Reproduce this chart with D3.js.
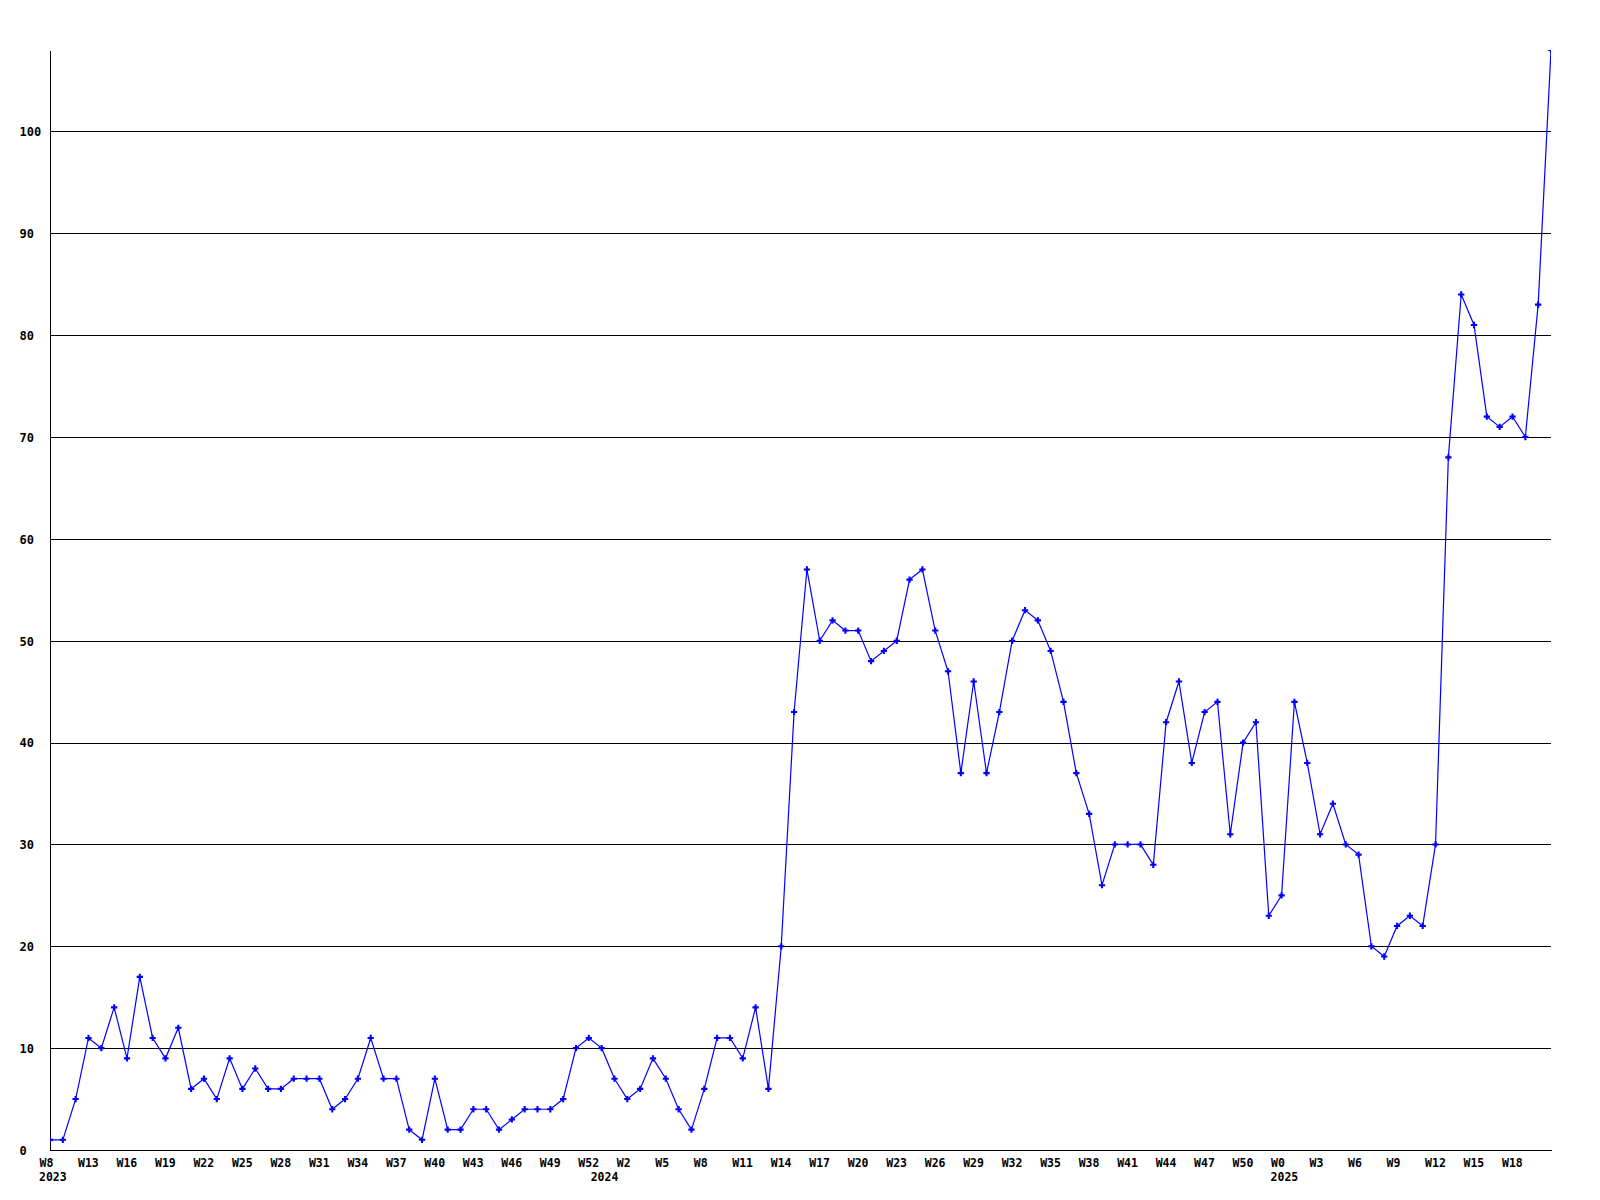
<!DOCTYPE html>
<html>
<head>
<meta charset="utf-8">
<script src="https://cdn.jsdelivr.net/npm/d3@7"></script>
<style>
  html, body { margin: 0; padding: 0; background: #fff; }
  svg { display: block; }
  text { font-family: "DejaVu Sans Mono", "Liberation Mono", monospace; font-weight: bold; fill: #000; }
</style>
</head>
<body>
<svg id="chart" width="1600" height="1200"></svg>
<script>
// ---- data ----
const values = [
  1, 1, 5, 11, 10, 14, 9, 17, 11, 9,
  12, 6, 7, 5, 9, 6, 8, 6, 6, 7,
  7, 7, 4, 5, 7, 11, 7, 7, 2, 1,
  7, 2, 2, 4, 4, 2, 3, 4, 4, 4,
  5, 10, 11, 10, 7, 5, 6, 9, 7, 4,
  2, 6, 11, 11, 9, 14, 6, 20, 43, 57,
  50, 52, 51, 51, 48, 49, 50, 56, 57, 51,
  47, 37, 46, 37, 43, 50, 53, 52, 49, 44,
  37, 33, 26, 30, 30, 30, 28, 42, 46, 38,
  43, 44, 31, 40, 42, 23, 25, 44, 38, 31,
  34, 30, 29, 20, 19, 22, 23, 22, 30, 68,
  84, 81, 72, 71, 72, 70, 83, 108
];
const weekTickIndex = [0, 3, 6, 9, 12, 15, 18, 21, 24, 27, 30, 33, 36, 39, 42, 45, 48, 51, 54, 57,
  60, 63, 66, 69, 72, 75, 78, 81, 84, 87, 90, 93, 96, 99, 102, 105, 108, 111, 114];
const weekTickLabels = ["W8", "W13", "W16", "W19", "W22", "W25", "W28", "W31", "W34", "W37",
  "W40", "W43", "W46", "W49", "W52", "W2", "W5", "W8", "W11", "W14",
  "W17", "W20", "W23", "W26", "W29", "W32", "W35", "W38", "W41", "W44",
  "W47", "W50", "W0", "W3", "W6", "W9", "W12", "W15", "W18"];
const yearTickIndex = [0, 43, 96];
const yearTickLabels = ["2023", "2024", "2025"];
const yTicks = [0, 10, 20, 30, 40, 50, 60, 70, 80, 90, 100];
const yMax = 108;

// ---- layout ----
const pLeft = 50, pRight = 1551, pTop = 50, pBottom = 1150;
const svg = d3.select("#chart");
svg.append("rect").attr("width", 1600).attr("height", 1200).attr("fill", "#fff");

const x = d3.scaleLinear().domain([0, values.length - 1]).range([pLeft, pRight]);
const y = d3.scaleLinear().domain([0, yMax]).range([pBottom, pTop]);

svg.append("defs").append("clipPath").attr("id", "plotclip")
  .append("rect").attr("x", pLeft).attr("y", pTop).attr("width", pRight - pLeft).attr("height", pBottom - pTop);

// Y axis with grid lines
const yAxis = d3.axisLeft(y).tickValues(yTicks).tickSize(-(pRight - pLeft)).tickSizeOuter(0).tickFormat(d3.format("d"));
const yg = svg.append("g").attr("transform", `translate(${pLeft},0)`).call(yAxis);
yg.attr("font-family", null).attr("font-size", null);
yg.select(".domain").attr("stroke", "#000").attr("stroke-width", 1).attr("shape-rendering", "crispEdges");
yg.selectAll(".tick line").attr("stroke", "#000").attr("stroke-width", 1).attr("shape-rendering", "crispEdges");
yg.selectAll(".tick text")
  .attr("x", 19.5 - pLeft).attr("dy", "0.36em")
  .attr("text-anchor", "start")
  .style("font-size", "12px");

// X axis
const xAxis = d3.axisBottom(x).tickValues(weekTickIndex).tickSize(0).tickSizeOuter(0)
  .tickFormat((d, i) => weekTickLabels[i]);
const xg = svg.append("g").attr("transform", `translate(0,${pBottom})`).call(xAxis);
xg.attr("font-family", null).attr("font-size", null);
xg.select(".domain").attr("stroke", "#000").attr("stroke-width", 1).attr("shape-rendering", "crispEdges");
xg.selectAll(".tick text")
  .attr("y", 17).attr("dy", null).attr("dx", -11)
  .attr("text-anchor", "start")
  .style("font-size", "11.5px");

// Year labels
svg.append("g").selectAll("text").data(yearTickIndex).join("text")
  .attr("x", d => x(d) - 11)
  .attr("y", pBottom + 31)
  .attr("text-anchor", "start")
  .style("font-size", "11.5px")
  .text((d, i) => yearTickLabels[i]);

// Line + markers
const plot = svg.append("g").attr("clip-path", "url(#plotclip)");
const line = d3.line().x((d, i) => x(i)).y(d => y(d));
plot.append("path").datum(values)
  .attr("d", line)
  .attr("fill", "none")
  .attr("stroke", "#0000ff")
  .attr("stroke-width", 1.2);

const sym = d3.symbol().type(d3.symbolCross).size(22);
plot.selectAll("path.pt").data(values).join("path")
  .attr("class", "pt")
  .attr("d", sym)
  .attr("transform", (d, i) => `translate(${x(i)},${y(d)})`)
  .attr("fill", "#0000ff");
</script>
</body>
</html>
